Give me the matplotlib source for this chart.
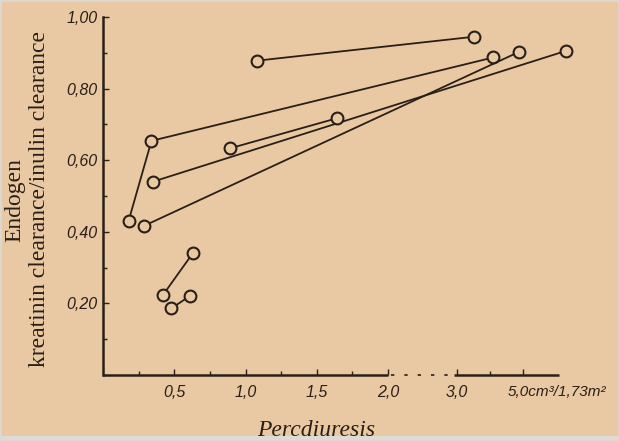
import numpy as np
import matplotlib.pyplot as plt
from matplotlib.patches import Rectangle

# Data (x: percdiuresis, y: clearance ratio)
pair_a_x = [1.08, 3.53]
pair_a_y = [0.878, 0.945]

pair_b_x = [0.18, 0.34, 4.10]
pair_b_y = [0.431, 0.654, 0.887]

pair_c_x = [0.35, 6.29]
pair_c_y = [0.540, 0.905]

pair_d_x = [0.89, 1.64]
pair_d_y = [0.633, 0.717]

pair_e_x = [0.29, 4.89]
pair_e_y = [0.417, 0.903]

pair_f_x = [0.42, 0.63]
pair_f_y = [0.223, 0.340]

pair_g_x = [0.48, 0.61]
pair_g_y = [0.186, 0.221]

series = [
    (pair_a_x, pair_a_y),
    (pair_b_x, pair_b_y),
    (pair_c_x, pair_c_y),
    (pair_d_x, pair_d_y),
    (pair_e_x, pair_e_y),
    (pair_f_x, pair_f_y),
    (pair_g_x, pair_g_y),
]

x_major = [0.5, 1.0, 1.5, 2.0, 3.0, 5.0]
x_labels = ["0,5", "1,0", "1,5", "2,0", "3,0", ""]
x_minor = [0.25, 0.75, 1.25, 1.75, 4.0]
y_major = [0.2, 0.4, 0.6, 0.8, 1.0]
y_labels = ["0,20", "0,40", "0,60", "0,80", "1,00"]
y_minor = [0.1, 0.3, 0.5, 0.7, 0.9]
unit_label = "5,0cm\u00b3/1,73m\u00b2"

bg = '#e9c9a4'
ink = '#2a1f17'

# broken x axis: linear up to 2.0, compressed gap, then a tighter scale from 3.0
knots_v = [-10, 0.0, 2.0, 3.0, 20.0]
knots_u = [-1425, 0.0, 285.0, 354.0, 354.0 + 33 * 17]


def fwd(v):
    return np.interp(v, knots_v, knots_u)


def inv(u):
    return np.interp(u, knots_u, knots_v)


W, H = 619, 441
fig = plt.figure(figsize=(W / 100, H / 100), dpi=100)
fig.patch.set_facecolor(bg)

xmax = 7.3
ax_w = fwd(xmax) - fwd(0)
ax = fig.add_axes([103 / W, 66 / H, ax_w / W, 358 / H])
ax.set_facecolor(bg)
ax.set_xscale('function', functions=(fwd, inv))
ax.set_xlim(0, xmax)
ax.set_ylim(0, 1.0)

for xs, ys in series:
    ax.plot(xs, ys, color=ink, lw=1.3, marker='o', ms=8.5, mfc=bg,
            mec=ink, mew=1.5, clip_on=False, zorder=3)

for s in ['top', 'right', 'bottom']:
    ax.spines[s].set_visible(False)
ax.spines['left'].set_linewidth(1.8)
ax.spines['left'].set_color(ink)

# x axis line with the dotted break
tr = ax.get_xaxis_transform()
ax.plot([0, 2.0], [0, 0], color=ink, lw=1.8, transform=tr, clip_on=False,
        solid_capstyle='butt')
ax.plot([2.05, 2.95], [0, 0], color=ink, lw=1.2, ls=(0, (2, 6)),
        transform=tr, clip_on=False)
ax.plot([2.95, 6.1], [0, 0], color=ink, lw=1.8, transform=tr, clip_on=False,
        solid_capstyle='butt')

ax.set_xticks(x_major)
ax.set_xticklabels(x_labels)
ax.set_xticks(x_minor, minor=True)
ax.set_yticks(y_major)
ax.set_yticklabels(y_labels)
ax.set_yticks(y_minor, minor=True)

ax.tick_params(axis='both', which='both', direction='in', color=ink,
               width=1.0, labelcolor=ink)
ax.tick_params(axis='both', which='major', length=4)
ax.tick_params(axis='both', which='minor', length=3)
ax.tick_params(axis='x', pad=7)
ax.tick_params(axis='y', pad=4)
for lab in ax.get_xticklabels() + ax.get_yticklabels():
    lab.set_fontstyle('italic')
    lab.set_fontsize(11.5)
    lab.set_family('Liberation Sans')

# last tick label with its unit, running to the right
ax.annotate(unit_label, xy=(5.0, 0), xycoords=tr, xytext=(-11, -7),
            textcoords='offset points', ha='left', va='top', fontsize=11,
            style='italic', family='Liberation Sans', color=ink)

fig.text(15 / W, 1 - 200 / H, "Endogen", rotation=90, ha='center',
         va='center', fontsize=17, family='Liberation Serif', color=ink)
fig.text(40 / W, 1 - 199 / H, "kreatinin clearance/inulin clearance",
         rotation=90, ha='center', va='center', fontsize=17,
         family='Liberation Serif', color=ink)
fig.text(316 / W, 1 - 420 / H, "Percdiuresis", ha='center', va='top',
         fontsize=17, family='Liberation Serif', style='italic', color=ink)

# light strip along the bottom edge of the scan and a thin frame
fig.patches.append(Rectangle((0, 0), 1, 5 / H, transform=fig.transFigure,
                             facecolor='#dedbd6', edgecolor='none', zorder=10))
fig.patches.append(Rectangle((0, 0), 1, 1, transform=fig.transFigure,
                             facecolor='none', edgecolor='#dcd8d2', lw=2,
                             zorder=10))

fig.savefig('out.png', dpi=100, facecolor=bg)
